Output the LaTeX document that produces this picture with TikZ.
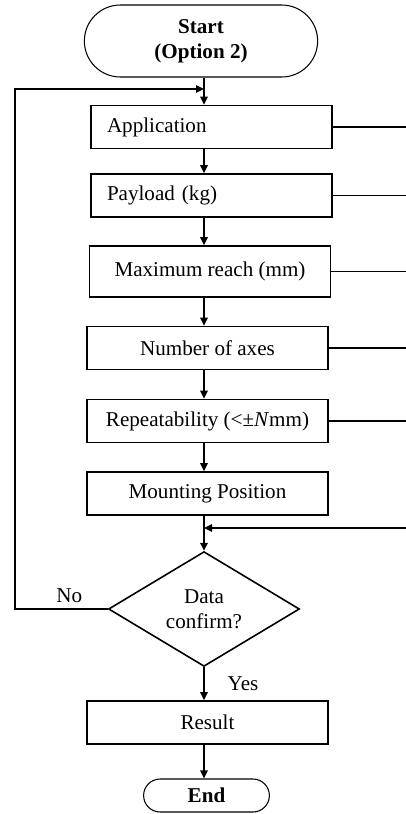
\documentclass[tikz,border=0pt]{standalone}
\usepackage{fontspec}
\setmainfont{Liberation Serif}
\usepackage{tikz}
\usetikzlibrary{positioning}
\usetikzlibrary{shapes,arrows,calc,arrows.meta}

\begin{document}
\begin{tikzpicture}[node distance=1.46cm, auto,
    font=\fontsize{12}{14}\selectfont, line width=0.9pt,
    box/.style={draw, rectangle, minimum width=4.82cm, minimum height=0.86cm},
    leftbox/.style={box, text width=4.18cm, inner xsep=0.32cm, align=left},
    term/.style={draw, rounded rectangle, align=center, line width=0.6pt,
        font=\fontsize{12}{14}\selectfont\bfseries},
    decision/.style={draw, diamond, minimum width=3.82cm, minimum height=2.08cm,
        inner sep=0pt, align=center},
    arr/.style={-{Triangle[length=1.6mm,width=1.5mm]}}]
    \useasboundingbox (0,0) rectangle (8.12,-16.28);
    % Nodes
    \node [term, minimum width=4.9cm, minimum height=1.44cm] (start) at (4.02,-0.82) {Start\\(Option 2)};
    \node [leftbox, below of=start, node distance=1.72cm, xshift=0.21cm] (app) {Application};
    \node [leftbox, below of=app, node distance=1.37cm] (pay) {Payload (kg)};
    \node [box, minimum height=1.02cm, below of=pay, node distance=1.52cm, xshift=-0.03cm] (max) {Maximum reach (mm)};
    \node [box, below of=max, node distance=1.53cm, xshift=-0.05cm] (num) {Number of axes};
    \node [box, below of=num] (rep) {Repeatability (<±\textit{N}mm)};
    \node [box, below of=rep, node distance=1.45cm] (mount) {Mounting Position};
    \node [decision, below of=mount, node distance=2.31cm, xshift=-0.07cm] (dec) {Data\\confirm?};
    \node [box, below of=dec, node distance=2.27cm, xshift=0.07cm] (res) {Result};
    \node [term, minimum width=2.75cm, minimum height=0.66cm, below of=res, xshift=-0.02cm] (end) {End};
    \node [above left=0cm and 0.38cm of dec.west] (no) {No};

    \coordinate (redge) at (8.12,0);
    \coordinate (rin) at (8.12,-10.56);
    \coordinate (merge) at (4.08,-10.56);
    \coordinate (back) at (0.30,-1.78);
    \coordinate (fb) at (4.08,-1.78);
    % Arrows
    \draw [arr] (start.south -| fb) -- (app.north -| fb);
    \draw [arr] (app.south -| fb) -- (pay.north -| fb);
    \draw [arr] (pay.south -| fb) -- (max.north -| fb);
    \draw [arr] (max.south -| fb) -- (num.north -| fb);
    \draw [arr] (num.south -| fb) -- (rep.north -| fb);
    \draw [arr] (rep.south -| fb) -- (mount.north -| fb);
    \draw [arr] (mount.south -| fb) -- (dec);
    \draw [arr] (dec) -- node [right, xshift=0.34cm] {Yes} (res.north -| fb);
    \draw [arr] (res.south -| fb) -- (end.north -| fb);
    % side lines
    \draw (app.east) -- (app.east -| redge);
    \draw (pay.east) -- (pay.east -| redge);
    \draw (max.east) -- (max.east -| redge);
    \draw (num.east) -- (num.east -| redge);
    \draw (rep.east) -- (rep.east -| redge);
    \draw [arr] (rin) -- (merge);
    % loop back
    \draw [arr] (dec.west) -| (back) -- (fb);
\end{tikzpicture}
\end{document}
